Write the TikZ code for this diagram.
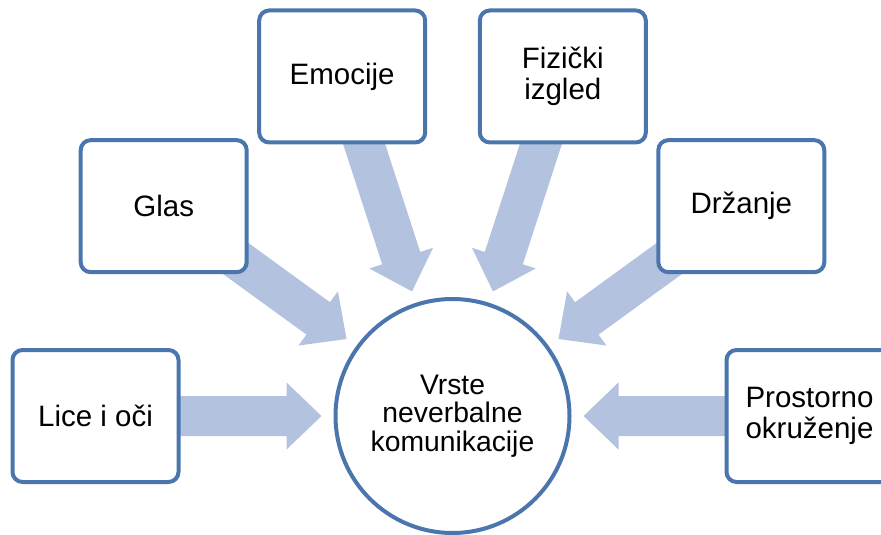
\documentclass[tikz,border=0pt]{standalone}
\usepackage{fontspec}
\setmainfont{Liberation Sans}
\usetikzlibrary{calc,backgrounds}
\definecolor{boxline}{HTML}{4A76AD}
\definecolor{arrowfill}{HTML}{B3C2DE}
\tikzset{
  boxnode/.style={draw=boxline, line width=4pt, fill=white, rounded corners=10pt,
    minimum width=166pt, minimum height=132pt, align=center, inner sep=2pt,
    font=\fontsize{29.5}{31}\selectfont},
  hubnode/.style={draw=boxline, line width=4pt, fill=white, circle,
    minimum size=234pt, align=center, inner sep=0pt,
    font=\fontsize{28.3}{28.7}\selectfont},
  blockarrow/.style={fill=arrowfill}
}
\newcommand\blockarr[2]{%
  \coordinate (bt) at ($(#2)!300pt!(#1)$);
  \coordinate (bh) at ($(#2)!166pt!(#1)$);
  \coordinate (bp) at ($(#2)!131pt!(#1)$);
  \fill[blockarrow] ($(bt)!20pt!90:(#2)$) -- ($(bh)!20pt!90:(#2)$) -- ($(bh)!33.5pt!90:(#2)$)
    -- (bp) -- ($(bh)!33.5pt!-90:(#2)$) -- ($(bh)!20pt!-90:(#2)$) -- ($(bt)!20pt!-90:(#2)$) -- cycle;
}
\begin{document}
\begin{tikzpicture}[x=1pt,y=1pt]
\useasboundingbox (0,0) rectangle (881,-535);
\coordinate (c) at (452.5,-416);
\node[hubnode] (hub) at (c) {Vrste\\neverbalne\\komunikacije};
\node[boxnode] (lice) at ($(c)+(180:357)$) {Lice i oči};
\node[boxnode] (glas) at ($(c)+(144:357)$) {Glas};
\node[boxnode] (emo) at ($(c)+(108:357)$) {Emocije};
\node[boxnode] (fiz) at ($(c)+(72:357)$) {Fizički\\izgled};
\node[boxnode] (drz) at ($(c)+(36:357)$) {Držanje};
\node[boxnode] (pro) at ($(c)+(0:357)$) {Prostorno\\okruženje};
\begin{pgfonlayer}{background}
\blockarr{lice}{hub}
\blockarr{glas}{hub}
\blockarr{emo}{hub}
\blockarr{fiz}{hub}
\blockarr{drz}{hub}
\blockarr{pro}{hub}
\end{pgfonlayer}
\end{tikzpicture}
\end{document}
